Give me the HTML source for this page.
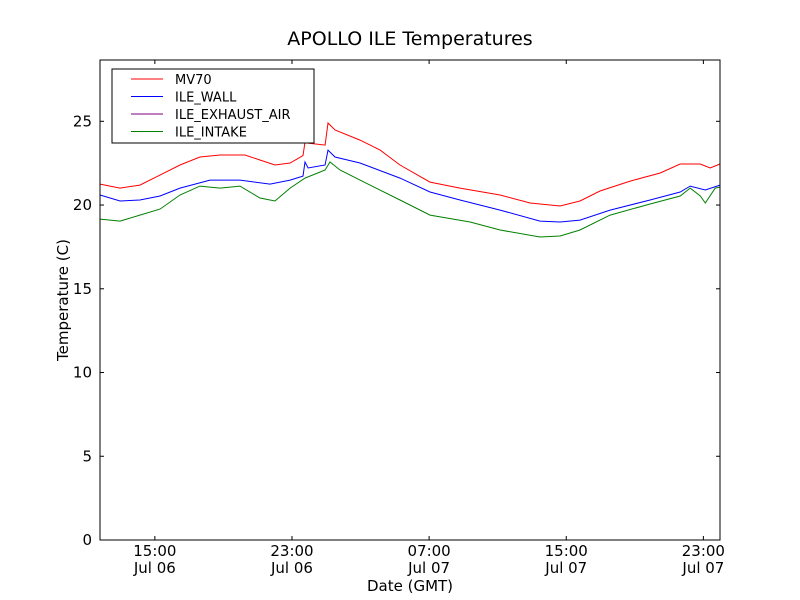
<!DOCTYPE html>
<html><head><meta charset="utf-8"><style>body{margin:0;background:#fff}svg{display:block;font-family:"DejaVu Sans","Liberation Sans",sans-serif}</style></head>
<body>
<svg id="c" width="800" height="600">
<rect width="800" height="600" fill="#fff"/>
<text x="410" y="45" font-size="19" text-anchor="middle">APOLLO ILE Temperatures</text>
<text x="410" y="591" font-size="15" text-anchor="middle">Date (GMT)</text>
<text transform="translate(68,300) rotate(-90)" font-size="15" text-anchor="middle">Temperature (C)</text>
<g id="plot"></g>
</svg>
<script>
const yTicks=[0,5,10,15,20,25];
const xTickHours=[15,23,31,39,47];
const xTickTimes=["15:00","23:00","07:00","15:00","23:00"];
const xTickDates=["Jul 06","Jul 06","Jul 07","Jul 07","Jul 07"];
const mvHours=[11.8,12.97,14.13,15.3,16.47,17.63,18.8,20.26,21.13,22.01,22.89,23.64,23.76,23.94,24.93,25.1,25.51,26.97,28.14,29.3,31.05,32.8,35.14,36.89,38.64,39.8,40.97,42.73,44.48,45.65,46.82,47.4,47.97];
const mvTemps=[21.25,21.01,21.19,21.79,22.39,22.87,22.99,22.99,22.69,22.39,22.51,22.95,23.75,23.7,23.58,24.9,24.48,23.88,23.28,22.39,21.37,21.01,20.6,20.12,19.94,20.24,20.84,21.43,21.91,22.45,22.45,22.21,22.45];
const wallHours=[11.8,12.97,14.13,15.3,16.47,18.22,19.97,21.72,22.89,23.64,23.76,23.94,24.93,25.1,25.51,26.97,29.3,31.05,32.8,35.14,37.47,38.64,39.8,41.56,43.89,45.65,46.23,47.11,47.97];
const wallTemps=[20.6,20.24,20.3,20.54,21.01,21.49,21.49,21.25,21.49,21.73,22.57,22.21,22.39,23.28,22.87,22.51,21.61,20.78,20.3,19.7,19.04,18.99,19.1,19.7,20.3,20.78,21.13,20.9,21.19];
const intakeHours=[11.8,12.97,14.13,15.3,16.47,17.63,18.8,19.97,21.13,22.01,22.89,23.76,24.93,25.22,25.8,26.97,29.3,31.05,33.39,35.14,37.47,38.64,39.8,41.56,43.89,45.65,46.23,46.82,47.11,47.69,47.97];
const intakeTemps=[19.16,19.04,19.4,19.76,20.6,21.13,21.01,21.13,20.42,20.24,21.01,21.61,22.09,22.57,22.09,21.49,20.3,19.4,18.99,18.51,18.09,18.15,18.51,19.4,20.06,20.54,21.01,20.54,20.12,21.01,21.07];
const X0=100,X1=720,Y0=60,Y1=540,H0=11.8,H1=47.97,TMAX=28.66;
const sx=h=>X0+(h-H0)/(H1-H0)*(X1-X0);
const sy=t=>Y1-t/TMAX*(Y1-Y0);
const NS="http://www.w3.org/2000/svg";
const g=document.getElementById('plot');
function mk(tag,attrs,parent){const e=document.createElementNS(NS,tag);for(const k in attrs)e.setAttribute(k,attrs[k]);(parent||g).appendChild(e);return e;}
function series(hs,ts,color,name){
  const d=hs.map((h,i)=>(i?'L':'M')+sx(h).toFixed(1)+','+sy(ts[i]).toFixed(1)).join('');
  const p=mk('path',{d:d,fill:'none',stroke:color,'stroke-width':1});
  
  
}
series(intakeHours,intakeTemps,'#008000','series-ile-intake');
series(wallHours,wallTemps,'#0000ff','series-ile-wall');
series(mvHours,mvTemps,'#ff0000','series-mv70');
const frame=mk('rect',{x:X0,y:Y0,width:X1-X0,height:Y1-Y0,fill:'none',stroke:'#000','stroke-width':1});


yTicks.forEach(t=>{
  const y=sy(t);
  mk('line',{x1:X0,x2:X0+4,y1:y,y2:y,stroke:'#000'});
  mk('line',{x1:X1-4,x2:X1,y1:y,y2:y,stroke:'#000'});
  const tx=mk('text',{x:X0-8,y:y+5,'font-size':15,'text-anchor':'end'});
  tx.textContent=t;
  
  
});
xTickHours.forEach((h,i)=>{
  const x=sx(h);
  mk('line',{x1:x,x2:x,y1:Y1,y2:Y1-4,stroke:'#000'});
  mk('line',{x1:x,x2:x,y1:Y0,y2:Y0+4,stroke:'#000'});
  const t1=mk('text',{x:x,y:556,'font-size':15,'text-anchor':'middle'});
  t1.textContent=xTickTimes[i];
  
  
  const t2=mk('text',{x:x,y:573,'font-size':15,'text-anchor':'middle'});
  t2.textContent=xTickDates[i];
  
  
});
const lg=mk('g',{});


mk('rect',{x:112,y:69,width:202,height:74,fill:'#fff',stroke:'#000'},lg);
const legNames=['MV70','ILE_WALL','ILE_EXHAUST_AIR','ILE_INTAKE'];
const legColors=['#ff0000','#0000ff','#800080','#008000'];
legNames.forEach((n,i)=>{
  const y=79+i*17.5;
  mk('line',{x1:131,x2:163,y1:y,y2:y,stroke:legColors[i]},lg);
  const t=mk('text',{x:175,y:y+5,'font-size':13},lg);
  t.textContent=n;
  
  
});
</script>
</body></html>
